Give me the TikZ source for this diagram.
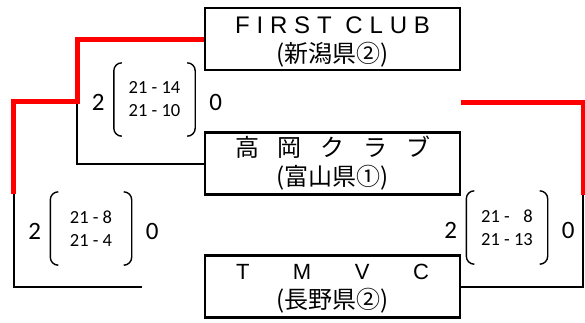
\documentclass[tikz,border=0pt]{standalone}
\usepackage{fontspec}
\usetikzlibrary{positioning}
\newfontfamily\clubfont{Liberation Sans}
\newfontfamily\jpfont{Noto Sans CJK JP}
\newfontfamily\scorefont{Carlito}
\begin{document}
\begin{tikzpicture}[x=1pt, y=-1pt,
  team/.style={draw, line width=2.5pt, minimum width=255pt, minimum height=62pt,
               inner sep=0pt, align=center, font=\fontsize{24}{29}\selectfont},
  win/.style={red, line width=5pt},
  lose/.style={line width=2pt},
  games/.style={minimum width=81pt, minimum height=73pt, inner sep=0pt, align=center,
                font=\scorefont\fontsize{18.5}{23}\selectfont},
  sets/.style={font=\scorefont\fontsize{25}{30}\selectfont, inner sep=0pt, yshift=-2.5pt},
  paren/.style={line width=1.4pt, rounded corners=8pt}]
\useasboundingbox (0,0) rectangle (585,322);
% teams
\node[team] (first) at (332.5,39)
  {\rule{0pt}{23pt}{\clubfont\makebox[195pt][s]{F\hfill I\hfill R\hfill S\hfill T\hfill\hfill C\hfill L\hfill U\hfill B}}\\{\jpfont (新潟県②)}};
\node[team] (takaoka) at (332.5,163.5)
  {{\jpfont\makebox[195pt][s]{高\hfill 岡\hfill ク\hfill ラ\hfill ブ}}\\{\jpfont (富山県①)}};
\node[team] (tmvc) at (332.5,286.5)
  {\rule{0pt}{19.5pt}{\clubfont\fontsize{22}{29}\selectfont\makebox[193pt][s]{T\hfill M\hfill V\hfill C}}\\{\jpfont (長野県②)}};
% scores
\node[games] (s1) at (154.5,99.5) {21 - 14\\21 - 10};
\node[sets, left=9pt of s1] (w1) {2};
\node[sets, right=14pt of s1] (l1) {0};
\node[games] (s2) at (91,228.5) {21 - 8\\21 - 4};
\node[sets, left=9pt of s2] (w2) {2};
\node[sets, right=14pt of s2] (l2) {0};
\node[games] (s3) at (507,227.5) {21 - \phantom{1}8\\21 - 13};
\node[sets, left=9pt of s3] (w3) {2};
\node[sets, right=14pt of s3] (l3) {0};
\foreach \m in {s1,s2,s3}{
  \draw[paren] ([xshift=8pt]\m.north west) -- (\m.north west) -- (\m.south west) -- ([xshift=8pt]\m.south west);
  \draw[paren] ([xshift=-8pt]\m.north east) -- (\m.north east) -- (\m.south east) -- ([xshift=-8pt]\m.south east);
}
% bracket lines
\coordinate (j1) at (77,101.5);
\coordinate (j2) at (13.5,194);
\coordinate (e2) at (142,286.5);
\coordinate (e3) at (461,102);
\coordinate (j3) at (583,195);
\draw[lose] (j1) |- (takaoka.west);
\draw[lose] (j2) |- (e2);
\draw[lose] (j3) |- (tmvc.east);
\draw[win] (first.west) -| (j1) -| (j2);
\draw[win] (e3) -| (j3);
\end{tikzpicture}
\end{document}
